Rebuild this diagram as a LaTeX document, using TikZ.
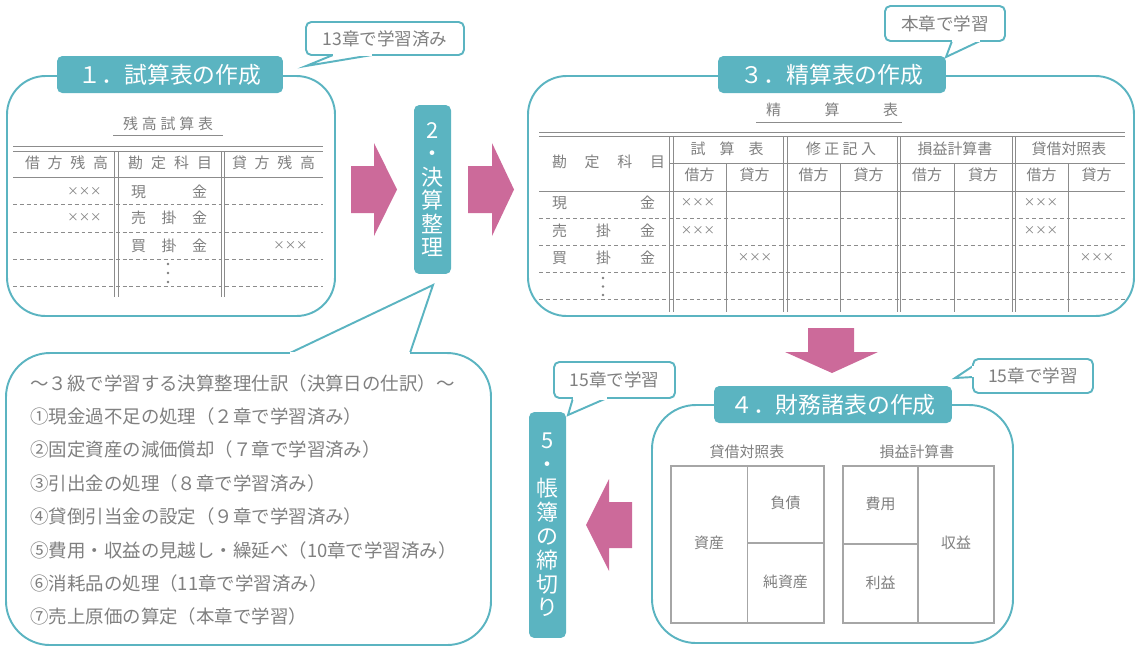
\documentclass[tikz,border=0pt]{standalone}
\usepackage{fontspec}
\setmainfont{Noto Sans CJK JP}
\definecolor{tealbox}{RGB}{91,180,193}
\definecolor{pinkarrow}{RGB}{204,106,154}
\definecolor{textgray}{RGB}{128,128,128}
\definecolor{linegray}{RGB}{140,140,140}
\definecolor{boxgray}{RGB}{166,166,166}
\newcommand\spaced[2]{\makebox[#1]{#2}}
\newcommand\calltail[3]{%
  \filldraw[fill=white, draw=tealbox, line width=1.1pt] #1 -- #2 -- #3;
  \draw[white, line width=1.7pt] #1 -- #3;}
\tikzset{
  frame/.style={draw=tealbox, line width=1.1pt, rounded corners=22pt, fill=white},
  tab/.style={fill=tealbox, rounded corners=3pt, text=white, inner sep=0pt,
    font=\fontsize{13}{13}\selectfont},
  callbox/.style={draw=tealbox, line width=1.1pt, rounded corners=3pt, fill=white,
    text=textgray, inner sep=0pt, font=\fontsize{10}{10}\selectfont},
  tabletext/.style={text=textgray, inner sep=0pt, font=\fontsize{8.5}{8.5}\selectfont},
  xmark/.style={tabletext, font=\fontsize{6.5}{6.5}\selectfont},
  rule/.style={draw=linegray, line width=0.5pt},
  dotrule/.style={rule, dash pattern=on 2.2pt off 1.7pt},
  bsline/.style={draw=boxgray, line width=0.9pt},
  blockarrow/.style={fill=pinkarrow},
}
\begin{document}
\begin{tikzpicture}[x=0.02cm, y=-0.02cm]
    \useasboundingbox (0,0) rectangle (1138,650);

% 1 trial balance
    \draw[frame] (7,76) rectangle (335,316);
    \node[tab, minimum width=4.52cm, minimum height=0.74cm] (tab1) at (170,74.5) {１．試算表の作成};
    \node[tabletext] (tbtitle) at (168,124) {\spaced{1.8cm}{残\hfill 高\hfill 試\hfill 算\hfill 表}};
    \draw[rule] (113,135) -- (223,135);
    \draw[rule] (13,146) -- (323,146) (13,151) -- (323,151);
    \draw[rule] (13,177) -- (323,177);
    \draw[dotrule] (13,204) -- (323,204) (13,232) -- (323,232) (13,259) -- (323,259) (13,286) -- (323,286);
    \draw[rule] (114,151) -- (114,297) (118,151) -- (118,297);
    \draw[rule] (221,151) -- (221,297) (224,151) -- (224,297);
    \node[tabletext] (tbdr) at (66.5,163) {\spaced{1.66cm}{借\hfill 方\hfill 残\hfill 高}};
    \node[tabletext] (tbacc) at (170,163) {\spaced{1.68cm}{勘\hfill 定\hfill 科\hfill 目}};
    \node[tabletext] (tbcr) at (273.5,163) {\spaced{1.66cm}{貸\hfill 方\hfill 残\hfill 高}};
    \node[tabletext] (tbcash) at (169,192) {\spaced{1.52cm}{現\hfill 金}};
    \node[tabletext] (tbrec) at (169,218) {\spaced{1.52cm}{売\hfill 掛\hfill 金}};
    \node[tabletext] (tbpay) at (169,246) {\spaced{1.52cm}{買\hfill 掛\hfill 金}};
    \node[xmark, anchor=east] (tbx1) at (102,192) {×××};
    \node[xmark, anchor=east] (tbx2) at (102,218) {×××};
    \node[xmark, anchor=east] (tbx3) at (308,246) {×××};
    \fill[textgray] (168,264) circle (0.8pt) (168,273) circle (0.8pt) (168,282) circle (0.8pt);

% 2 adjustments
    \node[tab, minimum width=0.74cm, minimum height=3.38cm, align=center,
      font=\fontsize{12.5}{13.3}\selectfont] (tab2) at (432.5,189.5) {2\\・\\決\\算\\整\\理};
    \fill[blockarrow] (351,166) -- (374,166) -- (374,143) -- (397,189.5) -- (374,236) -- (374,213) -- (351,213) -- cycle;
    \fill[blockarrow] (468,166) -- (492,166) -- (492,143) -- (514,189.5) -- (492,236) -- (492,213) -- (468,213) -- cycle;

% 3 worksheet
    \draw[frame] (528,76) rectangle (1134,316);
    \node[tab, minimum width=4.56cm, minimum height=0.74cm] (tab3) at (832,74.5) {３．精算表の作成};
    \node[tabletext] (wstitle) at (832,110) {\spaced{2.64cm}{精\hfill 算\hfill 表}};
    \draw[rule] (756,122) -- (902,122);
    \draw[rule] (539,132) -- (1125,132) (539,136) -- (1125,136);
    \draw[rule] (669,163) -- (1125,163);
    \draw[rule] (539,191) -- (1125,191);
    \draw[dotrule] (539,218) -- (1125,218) (539,245) -- (1125,245) (539,272) -- (1125,272) (539,299) -- (1125,299);
    \draw[rule] (669,136) -- (669,312) (673,136) -- (673,312);
    \draw[rule] (783,136) -- (783,312) (787,136) -- (787,312);
    \draw[rule] (897,136) -- (897,312) (900,136) -- (900,312);
    \draw[rule] (1012,136) -- (1012,312) (1015,136) -- (1015,312);
    \draw[rule] (726,163) -- (726,312) (840,163) -- (840,312) (954,163) -- (954,312) (1068,163) -- (1068,312);
    \node[tabletext] (wsacc) at (608.5,162) {\spaced{2.26cm}{勘\hfill 定\hfill 科\hfill 目}};
    \node[tabletext] (wstb) at (727,149) {\spaced{1.46cm}{試\hfill 算\hfill 表}};
    \node[tabletext] (wsadj) at (841,149) {\spaced{1.4cm}{修\hfill 正\hfill 記\hfill 入}};
    \node[tabletext] (wspl) at (955,149) {損益計算書};
    \node[tabletext] (wsbs) at (1069,149) {貸借対照表};
    \node[tabletext] (wsdr1) at (699.5,175) {借方};
    \node[tabletext] (wscr1) at (754.5,175) {貸方};
    \node[tabletext] (wsdr2) at (813.5,175) {借方};
    \node[tabletext] (wscr2) at (868.5,175) {貸方};
    \node[tabletext] (wsdr3) at (927,175) {借方};
    \node[tabletext] (wscr3) at (983,175) {貸方};
    \node[tabletext] (wsdr4) at (1041.5,175) {借方};
    \node[tabletext] (wscr4) at (1096.5,175) {貸方};
    \node[tabletext] (wscash) at (603.5,203) {\spaced{2.06cm}{現\hfill 金}};
    \node[tabletext] (wsrec) at (603.5,231) {\spaced{2.06cm}{売\hfill 掛\hfill 金}};
    \node[tabletext] (wspay) at (603.5,258) {\spaced{2.06cm}{買\hfill 掛\hfill 金}};
    \node[xmark] (wsx1) at (698,203) {×××};
    \node[xmark] (wsx2) at (698,231) {×××};
    \node[xmark] (wsx3) at (755,258) {×××};
    \node[xmark] (wsx4) at (1041,203) {×××};
    \node[xmark] (wsx5) at (1041,231) {×××};
    \node[xmark] (wsx6) at (1097,258) {×××};
    \fill[textgray] (603,278) circle (0.8pt) (603,286.5) circle (0.8pt) (603,295) circle (0.8pt);

% 4 statements
    \fill[blockarrow] (808,328) -- (854,328) -- (854,352) -- (878,352) -- (832,373) -- (785,352) -- (808,352) -- cycle;
    \draw[frame, rounded corners=25pt] (652,405) rectangle (1013,643);
    \node[tab, minimum width=4.76cm, minimum height=0.74cm] (tab4) at (833,404.5) {４．財務諸表の作成};
    \node[tabletext] (bstitle) at (747,452) {貸借対照表};
    \node[tabletext] (pltitle) at (917,452) {損益計算書};
    \draw[bsline] (671,466) rectangle (824,623);
    \draw[bsline] (747.5,466) -- (747.5,623) (747.5,543) -- (824,543);
    \draw[bsline] (843,466) rectangle (994,623);
    \draw[bsline] (918,466) -- (918,623) (843,544) -- (918,544);
    \node[tabletext] (assets) at (709,543) {資産};
    \node[tabletext] (liab) at (785.5,503) {負債};
    \node[tabletext] (equity) at (785.5,582) {純資産};
    \node[tabletext] (expense) at (880.5,504) {費用};
    \node[tabletext] (profit) at (880.5,583) {利益};
    \node[tabletext] (revenue) at (956,543) {収益};

% 5 closing
    \fill[blockarrow] (632,502) -- (609,502) -- (609,479) -- (586,525) -- (609,571) -- (609,548) -- (632,548) -- cycle;
    \node[tab, minimum width=0.74cm, minimum height=4.52cm, align=center,
      font=\fontsize{12.5}{13.6}\selectfont] (tab5) at (547.5,525) {5\\・\\帳\\簿\\の\\締\\切\\り};

% adjusting entries
    \draw[frame, rounded corners=25pt] (6,353) rectangle (491,645);
    \calltail{(290,353)}{(433,285)}{(410,353)}
    \node[text=textgray, inner sep=0pt, anchor=west, align=left,
      font=\fontsize{10.5}{19}\selectfont] (entries) at (30,500)
      {～３級で学習する決算整理仕訳（決算日の仕訳）～\\
       ①現金過不足の処理（２章で学習済み）\\
       ②固定資産の減価償却（７章で学習済み）\\
       ③引出金の処理（８章で学習済み）\\
       ④貸倒引当金の設定（９章で学習済み）\\
       ⑤費用・収益の見越し・繰延べ（10章で学習済み）\\
       ⑥消耗品の処理（11章で学習済み）\\
       ⑦売上原価の算定（本章で学習）};

% callouts
    \node[callbox, minimum width=3.16cm, minimum height=0.66cm] (ch13) at (385,38.5) {13章で学習済み};
    \calltail{(333,55)}{(306,66)}{(372,55)}
    \node[callbox, minimum width=2.4cm, minimum height=0.7cm] (chthis) at (945,23.5) {本章で学習};
    \calltail{(952,41)}{(946,57)}{(980,41)}
    \node[callbox, minimum width=2.42cm, minimum height=0.72cm] (ch15a) at (614.5,380) {15章で学習};
    \calltail{(573,398)}{(568,415)}{(607,398)}
    \node[callbox, minimum width=2.4cm, minimum height=0.68cm] (ch15b) at (1033,376) {15章で学習};
    \calltail{(973,366)}{(955,378)}{(973,377)}

   \end{tikzpicture}
\end{document}
